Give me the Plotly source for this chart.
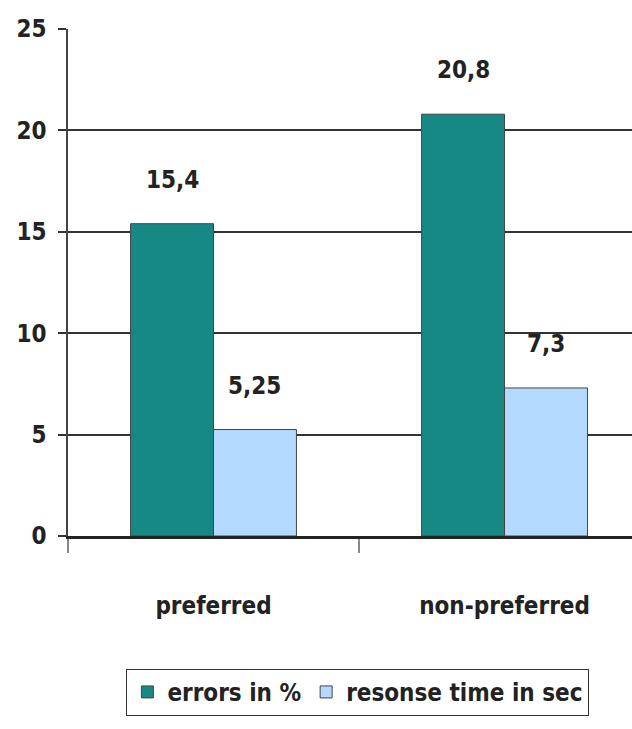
import plotly.graph_objects as go

categories = ["preferred", "non-preferred"]
errors_pct = [15.4, 20.8]
response_sec = [5.25, 7.3]
series_names = ["errors in %", "resonse time in sec"]
y_ticks = [0, 5, 10, 15, 20, 25]

FONT = "DejaVu Sans Condensed, DejaVu Sans, sans-serif"
FS = 24
BARGAP = 0.43

def tfont(size=FS):
    return dict(family=FONT, size=size, color="#222222", weight="bold")

def fmt(v):
    return ("%g" % v).replace(".", ",")

fig = go.Figure()
fig.add_trace(go.Bar(x=categories, y=errors_pct, name=series_names[0],
                     marker=dict(color="#168985", line=dict(color="#444444", width=1))))
fig.add_trace(go.Bar(x=categories, y=response_sec, name=series_names[1],
                     marker=dict(color="#b3d9ff", line=dict(color="#444444", width=1))))

half = (1 - BARGAP) / 4
for i, cat in enumerate(categories):
    for val, off in ((errors_pct[i], -half), (response_sec[i], half)):
        fig.add_annotation(x=i + off, y=val, text=fmt(val), showarrow=False,
                           yanchor="middle", yshift=44, font=tfont())

fig.update_layout(
    width=632, height=729,
    margin=dict(l=68, r=0, t=29, b=193),
    paper_bgcolor="white", plot_bgcolor="white",
    barmode="group", bargap=BARGAP, bargroupgap=0,
    font=dict(family=FONT, color="#222222"),
    showlegend=True,
    legend=dict(orientation="h", x=0.514, xanchor="center", y=-0.262, yanchor="top",
                bordercolor="#333333", borderwidth=1, font=tfont()),
)
fig.update_yaxes(range=[0, 25], tickvals=y_ticks, showgrid=True, gridcolor="#333333", gridwidth=1.5,
                 showline=True, linecolor="#444444", linewidth=1.5, zeroline=False,
                 ticks="outside", ticklen=8, tickcolor="#333333", tickwidth=1.5,
                 ticklabelstandoff=7, tickfont=tfont())
fig.update_xaxes(type="category", range=[-0.5, 1.438], showgrid=False,
                 showline=True, linecolor="#222222", linewidth=2.5,
                 ticks="outside", ticklen=14, tickcolor="#888888", tickwidth=1.5,
                 tickson="boundaries", ticklabelstandoff=46, tickfont=tfont())

fig.write_html("out.html")
